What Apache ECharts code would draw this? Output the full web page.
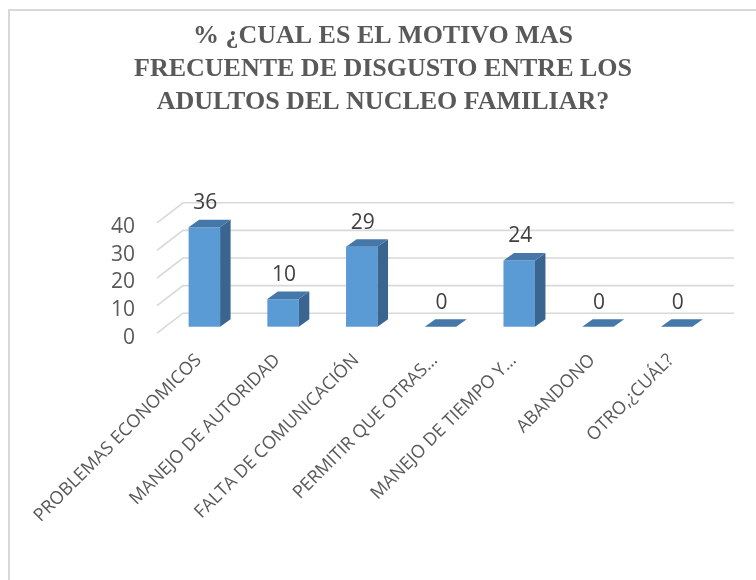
<!DOCTYPE html>
<html>
<head>
<meta charset="utf-8">
<script src="https://cdn.jsdelivr.net/npm/echarts@6/dist/echarts.min.js"></script>
<style>html,body{margin:0;padding:0;background:#fff;}#c{width:756px;height:580px;}</style>
</head>
<body>
<div id="c"></div>
<script>
const titleText = "% ¿CUAL ES EL MOTIVO MAS\nFRECUENTE DE DISGUSTO ENTRE LOS\nADULTOS DEL NUCLEO FAMILIAR?";
const categories = ["PROBLEMAS ECONOMICOS", "MANEJO DE AUTORIDAD", "FALTA DE COMUNICACIÓN", "PERMITIR QUE OTRAS…", "MANEJO DE TIEMPO Y…", "ABANDONO", "OTRO,¿CUÁL?"];
const values = [36, 10, 29, 0, 24, 0, 0];
const yTicks = [0, 10, 20, 30, 40];

const DX = 10.5, DY = -7.5;       // bar depth
const BACK_DX = 18, BACK_DY = -13.5; // back wall offset
const SIDE_DX = -8, SIDE_DY = 6.5;   // front floor offset

const chart = echarts.init(document.getElementById('c'), null, {renderer: 'canvas'});
chart.setOption({
  backgroundColor: '#ffffff',
  animation: false,
  title: {
    text: titleText,
    left: 378,
    top: 15,
    textAlign: 'center',
    textStyle: {fontFamily: 'Liberation Serif', fontWeight: 'bold', fontSize: 26, lineHeight: 33, color: '#595959'}
  },
  graphic: [{
    type: 'rect', shape: {x: 9, y: 10, width: 800, height: 620},
    style: {fill: 'none', stroke: '#d9d9d9', lineWidth: 2}, silent: true
  }],
  grid: {left: 165, right: 40, top: 216.3, bottom: 253.3},
  xAxis: {
    type: 'category', data: categories,
    axisLine: {show: false}, axisTick: {show: false}, splitLine: {show: false},
    axisLabel: {interval: 0, rotate: 45, margin: 25, padding: [0, 8, 0, 0], fontFamily: 'Open Sans', fontSize: 18, color: '#595959'}
  },
  yAxis: {
    type: 'value', min: 0, max: 40, interval: 10,
    axisLine: {show: false}, axisTick: {show: false}, splitLine: {show: false},
    axisLabel: {margin: 30, fontFamily: 'Open Sans', fontSize: 21, color: '#595959', verticalAlign: 'top', lineHeight: 22}
  },
  series: [
    {
      type: 'custom', z: 1, silent: true,
      data: yTicks.map(v => [0, v]),
      renderItem: function (params, api) {
        const cs = params.coordSys;
        const p = api.coord([0, api.value(1)]);
        const yb = p[1] + BACK_DY;
        return {
          type: 'polyline',
          shape: {points: [[cs.x + SIDE_DX, p[1] + SIDE_DY], [cs.x + BACK_DX, yb], [cs.x + cs.width + BACK_DX, yb]]},
          style: {stroke: '#d9d9d9', lineWidth: 1.6, fill: 'none'}
        };
      }
    },
    {
      type: 'custom', z: 3, silent: true,
      data: values.map((v, i) => [i, v]),
      renderItem: function (params, api) {
        const i = api.value(0), v = api.value(1);
        const base = api.coord([i, 0]);
        const top = api.coord([i, v]);
        const w = api.size([1, 0])[0] * 0.4;
        const xl = base[0] - w / 2, xr = base[0] + w / 2;
        const children = [];
        if (v > 0) {
          children.push({type: 'rect', shape: {x: xl, y: top[1], width: w, height: base[1] - top[1]}, style: {fill: '#5b9bd5'}});
          children.push({type: 'polygon', shape: {points: [[xr, top[1]], [xr + DX, top[1] + DY], [xr + DX, base[1] + DY], [xr, base[1]]]}, style: {fill: '#3a6591'}});
        }
        children.push({type: 'polygon', shape: {points: [[xl, top[1]], [xr, top[1]], [xr + DX, top[1] + DY], [xl + DX, top[1] + DY]]}, style: {fill: '#4577a8'}});
        children.push({type: 'text', style: {text: String(v), x: base[0] + 1, y: top[1] - 24, align: 'center', verticalAlign: 'middle', fontFamily: 'Open Sans', fontSize: 21, fill: '#404040'}});
        return {type: 'group', children: children};
      }
    }
  ]
});
</script>
</body>
</html>
